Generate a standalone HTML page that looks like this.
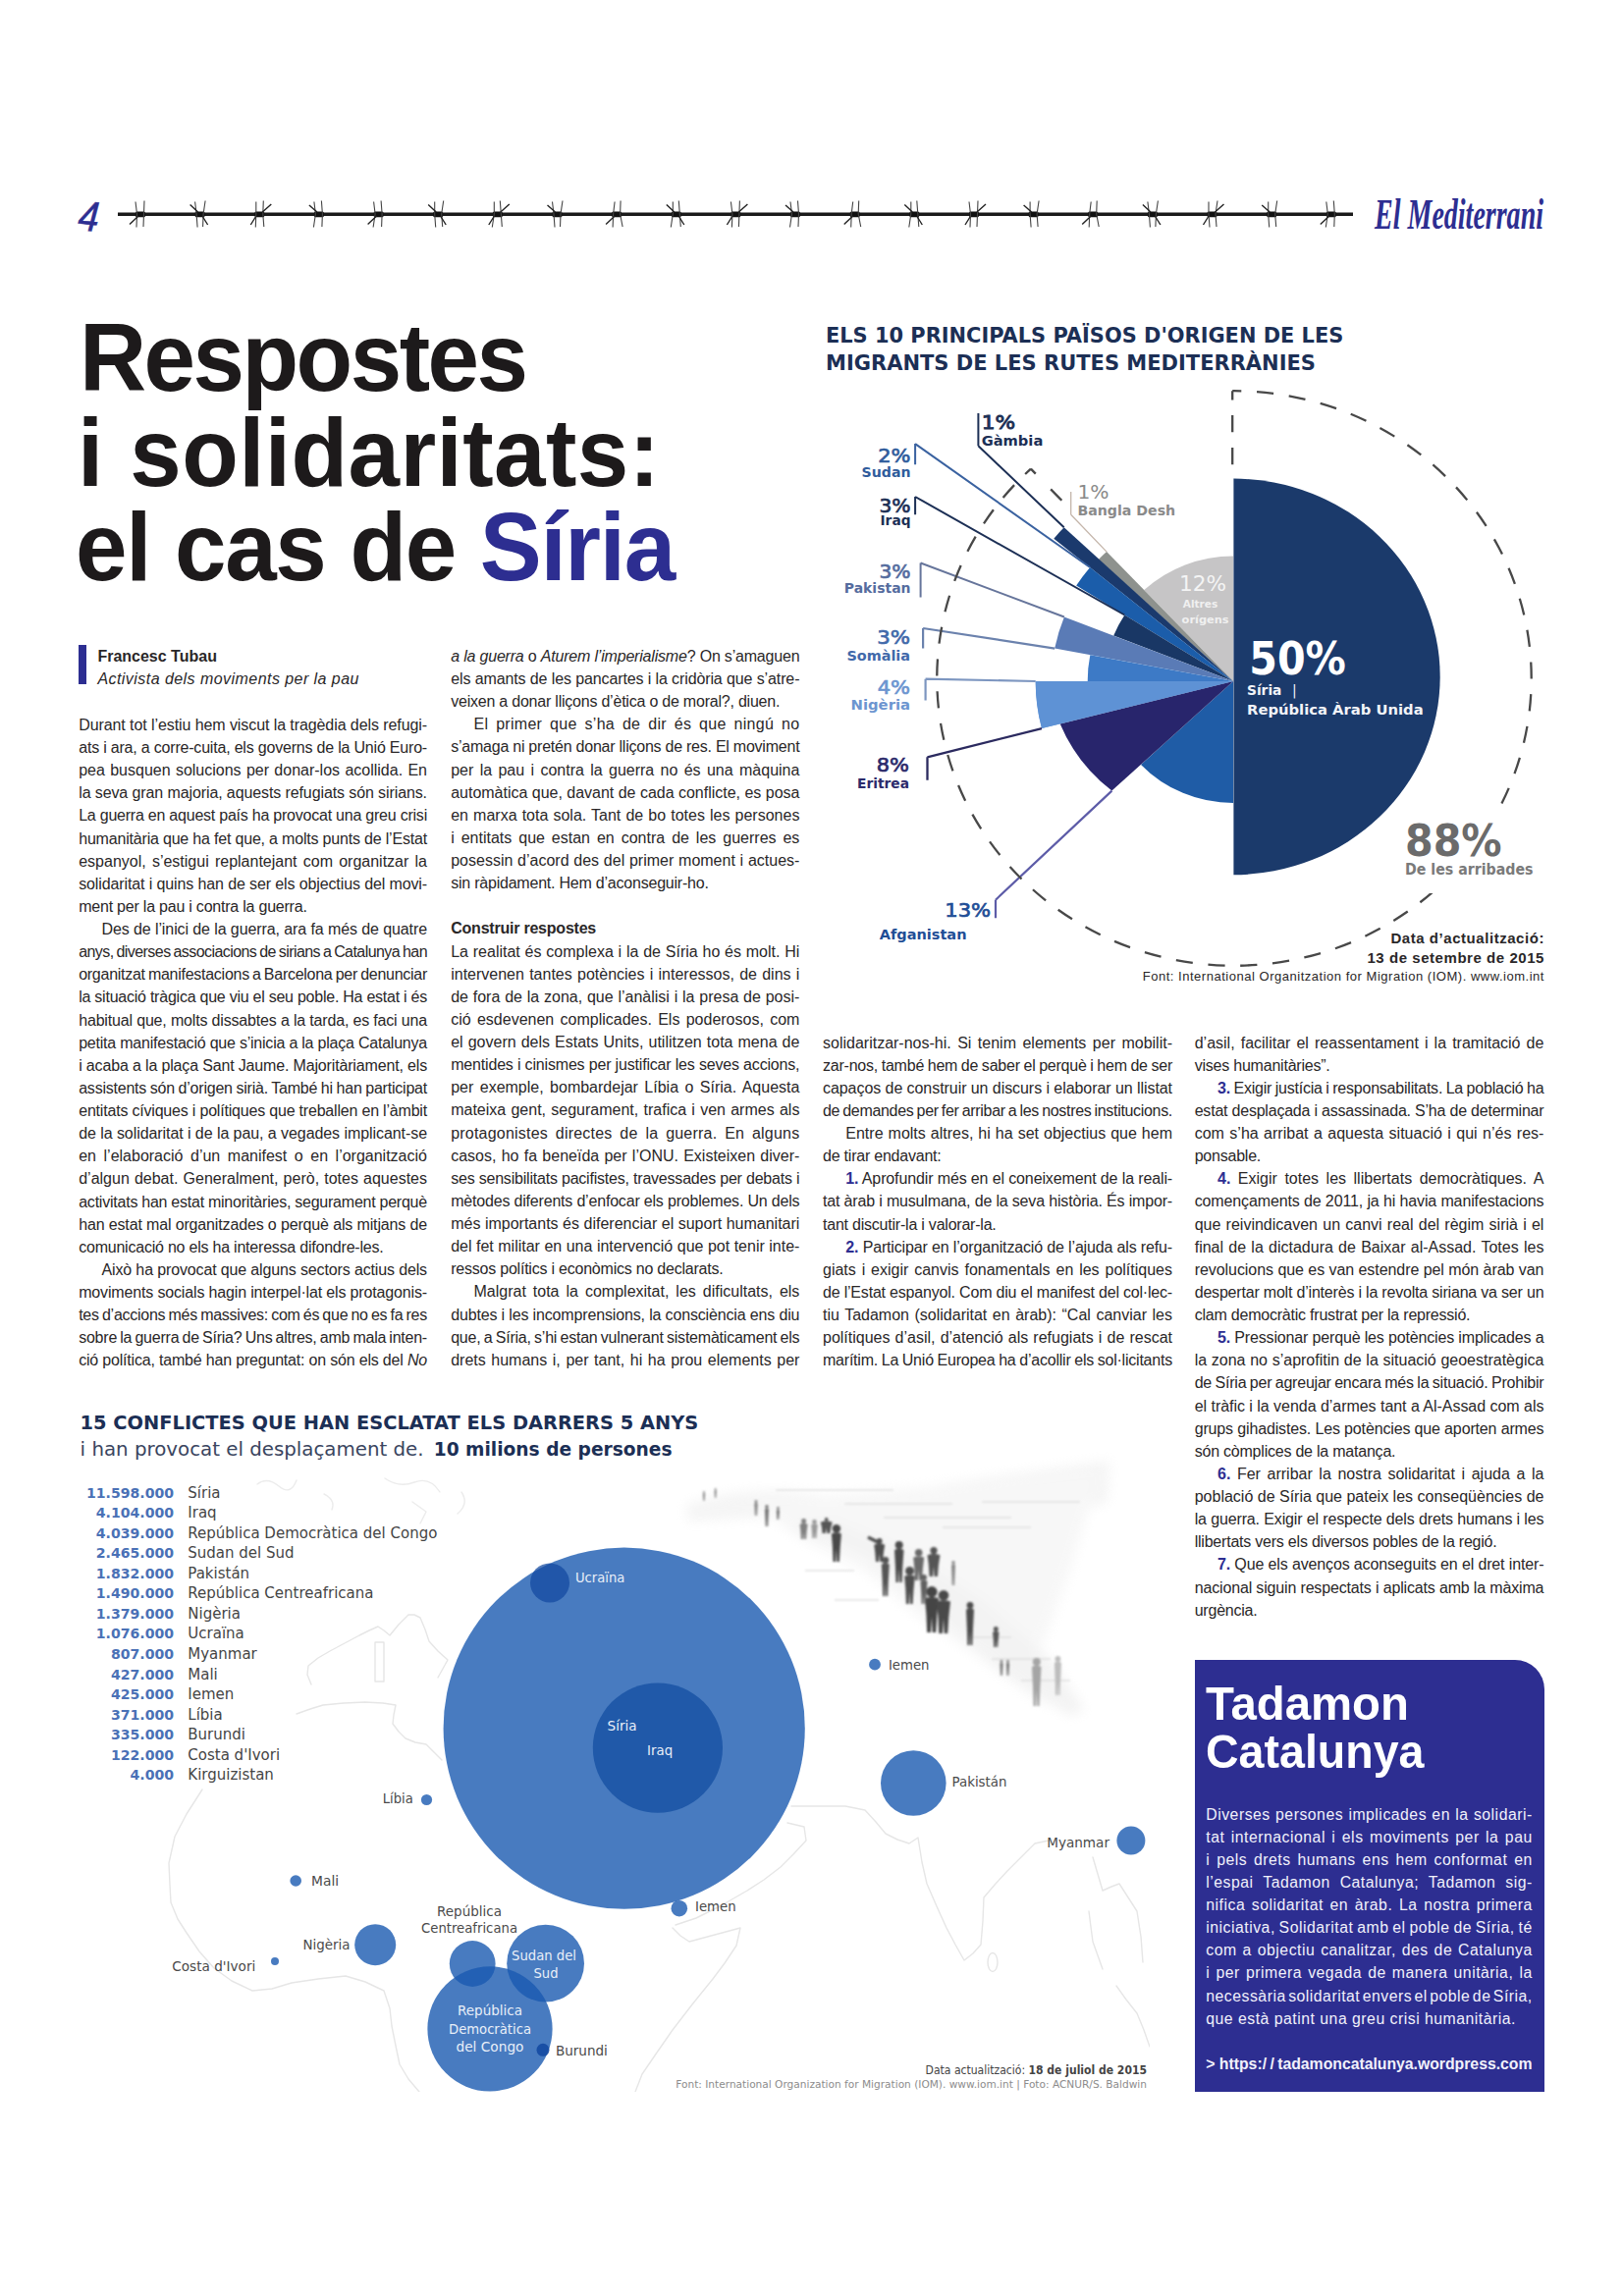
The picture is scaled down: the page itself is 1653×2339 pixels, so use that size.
<!DOCTYPE html>
<html lang="ca"><head><meta charset="utf-8"><title>El Mediterrani 4</title>
<style>
html,body{margin:0;padding:0;background:#fff}
.page{position:relative;width:1653px;height:2339px;overflow:hidden;background:#fff;font-family:"Liberation Sans",sans-serif;color:#2a2728}
.abs{position:absolute}
.col{position:absolute;white-space:nowrap}
.col .l{height:23.13px;white-space:nowrap}
.col b.n{color:#2d2e91}
.box{position:absolute;left:1216.7px;top:1691px;width:356px;height:439.6px;background:#2d2e91;border-top-right-radius:30px}
.boxt{color:#f1f1fb}
.hl{position:absolute;font-weight:bold;font-size:98.5px;line-height:100px;white-space:nowrap;color:#1d1a1b;transform:scaleX(0.958);transform-origin:0 0}
.hl span{color:#2d2e91}
.bt{position:absolute;left:1228px;font-weight:bold;font-size:48.3px;line-height:49.3px;white-space:nowrap;color:#fff;transform:scaleX(0.958);transform-origin:0 0}
.by{position:absolute;left:99.4px;white-space:nowrap;font-size:16px}
.cap{position:absolute;white-space:nowrap;text-align:right;right:80px}
</style></head><body><div class="page">
<svg class="abs" style="left:0;top:180px" width="1653" height="80" viewBox="0 180 1653 80">
<path d="M120 218.3H1378" stroke="#1a1a1a" stroke-width="3.4" fill="none"/>
<rect x="138.0" y="215.4" width="10" height="5.8" rx="1.5" fill="#111"/>
<path d="M138.0 205.5L139.5 218 139.0 231.5M147.0 204.5L146.5 218 146.0 231" stroke="#444" stroke-width="1.1" fill="none"/>
<path d="M141.0 220L132.0 228.5" stroke="#222" stroke-width="1.4" fill="none"/>
<rect x="198.6" y="215.4" width="10" height="5.8" rx="1.5" fill="#111"/>
<path d="M198.6 205.5L200.1 218 201.1 231.5M209.1 204.5L207.1 218 206.6 231" stroke="#444" stroke-width="1.1" fill="none"/>
<path d="M201.6 216L193.6 208.5M206.6 221l5 8" stroke="#222" stroke-width="1.4" fill="none"/>
<rect x="259.3" y="215.4" width="10" height="5.8" rx="1.5" fill="#111"/>
<path d="M260.8 205.5L260.8 218 260.3 231.5M268.3 204.5L267.8 218 268.8 231" stroke="#444" stroke-width="1.1" fill="none"/>
<path d="M267.3 216L276.3 208M260.3 221l-5 8" stroke="#222" stroke-width="1.4" fill="none"/>
<rect x="319.9" y="215.4" width="10" height="5.8" rx="1.5" fill="#111"/>
<path d="M319.9 205.5L321.4 218 319.4 231.5M327.4 204.5L328.4 218 327.9 231" stroke="#444" stroke-width="1.1" fill="none"/>
<path d="M322.9 216L314.9 209" stroke="#222" stroke-width="1.4" fill="none"/>
<rect x="380.6" y="215.4" width="10" height="5.8" rx="1.5" fill="#111"/>
<path d="M380.6 205.5L382.1 218 380.1 231.5M388.1 204.5L389.1 218 388.6 231" stroke="#444" stroke-width="1.1" fill="none"/>
<path d="M383.6 220L374.6 228.5" stroke="#222" stroke-width="1.4" fill="none"/>
<rect x="441.2" y="215.4" width="10" height="5.8" rx="1.5" fill="#111"/>
<path d="M442.7 205.5L442.7 218 443.7 231.5M451.7 204.5L449.7 218 450.7 231" stroke="#444" stroke-width="1.1" fill="none"/>
<path d="M444.2 216L436.2 208.5M449.2 221l5 8" stroke="#222" stroke-width="1.4" fill="none"/>
<rect x="501.8" y="215.4" width="10" height="5.8" rx="1.5" fill="#111"/>
<path d="M503.3 205.5L503.3 218 501.3 231.5M509.3 204.5L510.3 218 511.3 231" stroke="#444" stroke-width="1.1" fill="none"/>
<path d="M509.8 216L518.8 208M502.8 221l-5 8" stroke="#222" stroke-width="1.4" fill="none"/>
<rect x="562.5" y="215.4" width="10" height="5.8" rx="1.5" fill="#111"/>
<path d="M562.5 205.5L564.0 218 565.0 231.5M573.0 204.5L571.0 218 570.5 231" stroke="#444" stroke-width="1.1" fill="none"/>
<path d="M565.5 216L557.5 209" stroke="#222" stroke-width="1.4" fill="none"/>
<rect x="623.1" y="215.4" width="10" height="5.8" rx="1.5" fill="#111"/>
<path d="M626.1 205.5L624.6 218 624.1 231.5M632.1 204.5L631.6 218 634.1 231" stroke="#444" stroke-width="1.1" fill="none"/>
<path d="M626.1 220L617.1 228.5" stroke="#222" stroke-width="1.4" fill="none"/>
<rect x="683.8" y="215.4" width="10" height="5.8" rx="1.5" fill="#111"/>
<path d="M685.3 205.5L685.3 218 683.3 231.5M691.3 204.5L692.3 218 693.3 231" stroke="#444" stroke-width="1.1" fill="none"/>
<path d="M686.8 216L678.8 208.5M691.8 221l5 8" stroke="#222" stroke-width="1.4" fill="none"/>
<rect x="744.4" y="215.4" width="10" height="5.8" rx="1.5" fill="#111"/>
<path d="M744.4 205.5L745.9 218 745.4 231.5M753.4 204.5L752.9 218 752.4 231" stroke="#444" stroke-width="1.1" fill="none"/>
<path d="M752.4 216L761.4 208M745.4 221l-5 8" stroke="#222" stroke-width="1.4" fill="none"/>
<rect x="805.0" y="215.4" width="10" height="5.8" rx="1.5" fill="#111"/>
<path d="M805.0 205.5L806.5 218 804.5 231.5M812.5 204.5L813.5 218 813.0 231" stroke="#444" stroke-width="1.1" fill="none"/>
<path d="M808.0 216L800.0 209" stroke="#222" stroke-width="1.4" fill="none"/>
<rect x="865.7" y="215.4" width="10" height="5.8" rx="1.5" fill="#111"/>
<path d="M868.7 205.5L867.2 218 866.7 231.5M874.7 204.5L874.2 218 876.7 231" stroke="#444" stroke-width="1.1" fill="none"/>
<path d="M868.7 220L859.7 228.5" stroke="#222" stroke-width="1.4" fill="none"/>
<rect x="926.3" y="215.4" width="10" height="5.8" rx="1.5" fill="#111"/>
<path d="M927.8 205.5L927.8 218 925.8 231.5M933.8 204.5L934.8 218 935.8 231" stroke="#444" stroke-width="1.1" fill="none"/>
<path d="M929.3 216L921.3 208.5M934.3 221l5 8" stroke="#222" stroke-width="1.4" fill="none"/>
<rect x="987.0" y="215.4" width="10" height="5.8" rx="1.5" fill="#111"/>
<path d="M987.0 205.5L988.5 218 988.0 231.5M996.0 204.5L995.5 218 995.0 231" stroke="#444" stroke-width="1.1" fill="none"/>
<path d="M995.0 216L1004.0 208M988.0 221l-5 8" stroke="#222" stroke-width="1.4" fill="none"/>
<rect x="1047.6" y="215.4" width="10" height="5.8" rx="1.5" fill="#111"/>
<path d="M1049.1 205.5L1049.1 218 1050.1 231.5M1058.1 204.5L1056.1 218 1057.1 231" stroke="#444" stroke-width="1.1" fill="none"/>
<path d="M1050.6 216L1042.6 209" stroke="#222" stroke-width="1.4" fill="none"/>
<rect x="1108.2" y="215.4" width="10" height="5.8" rx="1.5" fill="#111"/>
<path d="M1111.2 205.5L1109.7 218 1109.2 231.5M1117.2 204.5L1116.7 218 1119.2 231" stroke="#444" stroke-width="1.1" fill="none"/>
<path d="M1111.2 220L1102.2 228.5" stroke="#222" stroke-width="1.4" fill="none"/>
<rect x="1168.9" y="215.4" width="10" height="5.8" rx="1.5" fill="#111"/>
<path d="M1168.9 205.5L1170.4 218 1171.4 231.5M1179.4 204.5L1177.4 218 1176.9 231" stroke="#444" stroke-width="1.1" fill="none"/>
<path d="M1171.9 216L1163.9 208.5M1176.9 221l5 8" stroke="#222" stroke-width="1.4" fill="none"/>
<rect x="1229.5" y="215.4" width="10" height="5.8" rx="1.5" fill="#111"/>
<path d="M1231.0 205.5L1231.0 218 1232.0 231.5M1240.0 204.5L1238.0 218 1239.0 231" stroke="#444" stroke-width="1.1" fill="none"/>
<path d="M1237.5 216L1246.5 208M1230.5 221l-5 8" stroke="#222" stroke-width="1.4" fill="none"/>
<rect x="1290.2" y="215.4" width="10" height="5.8" rx="1.5" fill="#111"/>
<path d="M1291.7 205.5L1291.7 218 1292.7 231.5M1300.7 204.5L1298.7 218 1299.7 231" stroke="#444" stroke-width="1.1" fill="none"/>
<path d="M1293.2 216L1285.2 209" stroke="#222" stroke-width="1.4" fill="none"/>
<rect x="1350.8" y="215.4" width="10" height="5.8" rx="1.5" fill="#111"/>
<path d="M1350.8 205.5L1352.3 218 1350.3 231.5M1358.3 204.5L1359.3 218 1358.8 231" stroke="#444" stroke-width="1.1" fill="none"/>
<path d="M1353.8 220L1344.8 228.5" stroke="#222" stroke-width="1.4" fill="none"/>
<text x="80" y="235.5" font-family="'Liberation Sans',sans-serif" font-style="italic" font-size="43" fill="#2d2e91" stroke="#2d2e91" stroke-width="0.6" textLength="21" lengthAdjust="spacingAndGlyphs" transform="rotate(5 94 220)">4</text>
<text x="1400" y="232.8" font-family="'Liberation Serif',serif" font-style="italic" font-weight="bold" font-size="44" fill="#2d2e91" textLength="172" lengthAdjust="spacingAndGlyphs">El Mediterrani</text>
</svg>
<div class="hl" style="left:80.50px;top:314.37px;letter-spacing:-2.65px">Respostes</div>
<div class="hl" style="left:79.40px;top:410.87px;letter-spacing:0.43px">i solidaritats:</div>
<div class="hl" style="left:77.00px;top:507.37px;letter-spacing:-1.37px">el cas de <span>Síria</span></div>
<div class="abs" style="left:79.7px;top:657px;width:8.2px;height:40.4px;background:#2d2e91"></div>
<div class="by" style="top:656.5px;line-height:23px"><b>Francesc Tubau</b></div>
<div class="by" style="top:679.5px;line-height:23px;letter-spacing:0.45px"><i>Activista dels moviments per la pau</i></div>
<div class="col" style="left:80.20px;top:726.99px;width:354.80px;font-size:16px;line-height:23.13px">
<div class="l" style="letter-spacing:-0.083px">Durant tot l’estiu hem viscut la tragèdia dels refugi-</div>
<div class="l" style="letter-spacing:-0.198px">ats i ara, a corre-cuita, els governs de la Unió Euro-</div>
<div class="l" style="word-spacing:0.871px">pea busquen solucions per donar-los acollida. En</div>
<div class="l" style="letter-spacing:-0.104px">la seva gran majoria, aquests refugiats són sirians.</div>
<div class="l" style="word-spacing:-0.050px;letter-spacing:-0.220px">La guerra en aquest país ha provocat una greu crisi</div>
<div class="l" style="letter-spacing:-0.190px">humanitària que ha fet que, a molts punts de l’Estat</div>
<div class="l" style="word-spacing:1.764px">espanyol, s’estigui replantejant com organitzar la</div>
<div class="l" style="letter-spacing:-0.116px">solidaritat i quins han de ser els objectius del movi-</div>
<div class="l" style="letter-spacing:-0.220px">ment per la pau i contra la guerra.</div>
<div class="l" style="padding-left:23.3px;letter-spacing:-0.096px">Des de l’inici de la guerra, ara fa més de quatre</div>
<div class="l" style="word-spacing:-1.000px;letter-spacing:-0.563px">anys, diverses associacions de sirians a Catalunya han</div>
<div class="l" style="word-spacing:-1.000px;letter-spacing:-0.270px">organitzat manifestacions a Barcelona per denunciar</div>
<div class="l" style="word-spacing:-0.121px;letter-spacing:-0.220px">la situació tràgica que viu el seu poble. Ha estat i és</div>
<div class="l" style="letter-spacing:-0.170px">habitual que, molts dissabtes a la tarda, es faci una</div>
<div class="l" style="letter-spacing:-0.220px">petita manifestació que s’inicia a la plaça Catalunya</div>
<div class="l" style="letter-spacing:-0.158px">i acaba a la plaça Sant Jaume. Majoritàriament, els</div>
<div class="l" style="word-spacing:-0.558px;letter-spacing:-0.220px">assistents són d’origen sirià. També hi han participat</div>
<div class="l" style="letter-spacing:-0.196px">entitats cíviques i polítiques que treballen en l’àmbit</div>
<div class="l" style="letter-spacing:-0.069px">de la solidaritat i de la pau, a vegades implicant-se</div>
<div class="l" style="word-spacing:3.097px">en l’elaboració d’un manifest o en l’organització</div>
<div class="l" style="word-spacing:0.689px">d’algun debat. Generalment, però, totes aquestes</div>
<div class="l" style="word-spacing:-0.214px;letter-spacing:-0.220px">activitats han estat minoritàries, segurament perquè</div>
<div class="l" style="letter-spacing:-0.144px">han estat mal organitzades o perquè als mitjans de</div>
<div class="l" style="letter-spacing:-0.220px">comunicació no els ha interessa difondre-les.</div>
<div class="l" style="padding-left:23.3px;letter-spacing:-0.138px">Això ha provocat que alguns sectors actius dels</div>
<div class="l" style="letter-spacing:-0.155px">moviments socials hagin interpel·lat els protagonis-</div>
<div class="l" style="word-spacing:-1.000px;letter-spacing:-0.258px">tes d’accions més massives: com és que no es fa res</div>
<div class="l" style="word-spacing:-1.000px;letter-spacing:-0.234px">sobre la guerra de Síria? Uns altres, amb mala inten-</div>
<div class="l" style="letter-spacing:-0.190px">ció política, també han preguntat: on són els del <i>No</i></div>
</div>
<div class="col" style="left:459.20px;top:656.89px;width:355.20px;font-size:16px;line-height:23.13px">
<div class="l" style="letter-spacing:-0.192px"><i>a la guerra</i> o <i>Aturem l’imperialisme</i>? On s’amaguen</div>
<div class="l" style="letter-spacing:-0.111px">els amants de les pancartes i la cridòria que s’atre-</div>
<div class="l" style="letter-spacing:-0.220px">veixen a donar lliçons d’ètica o de moral?, diuen.</div>
<div class="l" style="padding-left:23.3px;word-spacing:3.200px;letter-spacing:0.277px">El primer que s’ha de dir és que ningú no</div>
<div class="l" style="word-spacing:-0.110px;letter-spacing:-0.220px">s’amaga ni pretén donar lliçons de res. El moviment</div>
<div class="l" style="word-spacing:1.897px">per la pau i contra la guerra no és una màquina</div>
<div class="l" style="letter-spacing:-0.012px">automàtica que, davant de cada conflicte, es posa</div>
<div class="l" style="word-spacing:0.660px">en marxa tota sola. Tant de bo totes les persones</div>
<div class="l" style="word-spacing:2.504px">i entitats que estan en contra de les guerres es</div>
<div class="l" style="word-spacing:0.306px">posessin d’acord des del primer moment i actues-</div>
<div class="l" style="letter-spacing:-0.220px">sin ràpidament. Hem d’aconseguir-ho.</div>
<div class="l">&nbsp;</div>
<div class="l" style="letter-spacing:-0.220px"><b>Construir respostes</b></div>
<div class="l" style="word-spacing:0.356px">La realitat és complexa i la de Síria ho és molt. Hi</div>
<div class="l" style="word-spacing:0.807px">intervenen tantes potències i interessos, de dins i</div>
<div class="l" style="word-spacing:0.351px">de fora de la zona, que l’anàlisi i la presa de posi-</div>
<div class="l" style="word-spacing:1.846px">ció esdevenen complicades. Els poderosos, com</div>
<div class="l" style="word-spacing:0.598px">el govern dels Estats Units, utilitzen tota mena de</div>
<div class="l" style="letter-spacing:-0.177px">mentides i cinismes per justificar les seves accions,</div>
<div class="l" style="word-spacing:1.979px">per exemple, bombardejar Líbia o Síria. Aquesta</div>
<div class="l" style="word-spacing:0.814px">mateixa gent, segurament, trafica i ven armes als</div>
<div class="l" style="word-spacing:3.200px;letter-spacing:0.208px">protagonistes directes de la guerra. En alguns</div>
<div class="l" style="word-spacing:0.813px">casos, ho fa beneïda per l’ONU. Existeixen diver-</div>
<div class="l" style="letter-spacing:-0.208px">ses sensibilitats pacifistes, travessades per debats i</div>
<div class="l" style="letter-spacing:-0.189px">mètodes diferents d’enfocar els problemes. Un dels</div>
<div class="l" style="word-spacing:0.061px">més importants és diferenciar el suport humanitari</div>
<div class="l" style="word-spacing:0.035px">del fet militar en una intervenció que pot tenir inte-</div>
<div class="l" style="letter-spacing:-0.220px">ressos polítics i econòmics no declarats.</div>
<div class="l" style="padding-left:23.3px;word-spacing:2.552px">Malgrat tota la complexitat, les dificultats, els</div>
<div class="l" style="letter-spacing:-0.151px">dubtes i les incomprensions, la consciència ens diu</div>
<div class="l" style="word-spacing:-0.921px;letter-spacing:-0.220px">que, a Síria, s’hi estan vulnerant sistemàticament els</div>
<div class="l" style="word-spacing:1.123px">drets humans i, per tant, hi ha prou elements per</div>
</div>
<div class="col" style="left:838.00px;top:1050.59px;width:356.00px;font-size:16px;line-height:23.13px">
<div class="l" style="word-spacing:2.018px">solidaritzar-nos-hi. Si tenim elements per mobilit-</div>
<div class="l" style="word-spacing:-0.565px;letter-spacing:-0.220px">zar-nos, també hem de saber el perquè i hem de ser</div>
<div class="l" style="letter-spacing:-0.062px">capaços de construir un discurs i elaborar un llistat</div>
<div class="l" style="word-spacing:-1.000px;letter-spacing:-0.319px">de demandes per fer arribar a les nostres institucions.</div>
<div class="l" style="padding-left:23.3px;word-spacing:0.566px">Entre molts altres, hi ha set objectius que hem</div>
<div class="l" style="letter-spacing:-0.220px">de tirar endavant:</div>
<div class="l" style="padding-left:23.3px;letter-spacing:-0.128px"><b class=n>1.</b> Aprofundir més en el coneixement de la reali-</div>
<div class="l" style="letter-spacing:-0.166px">tat àrab i musulmana, de la seva història. És impor-</div>
<div class="l" style="letter-spacing:-0.220px">tant discutir-la i valorar-la.</div>
<div class="l" style="padding-left:23.3px;letter-spacing:-0.153px"><b class=n>2.</b> Participar en l’organització de l’ajuda als refu-</div>
<div class="l" style="word-spacing:1.432px">giats i exigir canvis fonamentals en les polítiques</div>
<div class="l" style="letter-spacing:-0.196px">de l’Estat espanyol. Com diu el manifest del col·lec-</div>
<div class="l" style="word-spacing:1.096px">tiu Tadamon (solidaritat en àrab): “Cal canviar les</div>
<div class="l" style="word-spacing:0.669px">polítiques d’asil, d’atenció als refugiats i de rescat</div>
<div class="l" style="word-spacing:-0.518px;letter-spacing:-0.220px">marítim. La Unió Europea ha d’acollir els sol·licitants</div>
</div>
<div class="col" style="left:1216.70px;top:1050.59px;width:355.70px;font-size:16px;line-height:23.13px">
<div class="l" style="word-spacing:1.648px">d’asil, facilitar el reassentament i la tramitació de</div>
<div class="l" style="letter-spacing:-0.220px">vises humanitàries”.</div>
<div class="l" style="padding-left:23.3px;word-spacing:-0.655px;letter-spacing:-0.220px"><b class=n>3.</b> Exigir justícia i responsabilitats. La població ha</div>
<div class="l" style="letter-spacing:-0.215px">estat desplaçada i assassinada. S’ha de determinar</div>
<div class="l" style="word-spacing:0.984px">com s’ha arribat a aquesta situació i qui n’és res-</div>
<div class="l" style="letter-spacing:-0.220px">ponsable.</div>
<div class="l" style="padding-left:23.3px;word-spacing:3.078px"><b class=n>4.</b> Exigir totes les llibertats democràtiques. A</div>
<div class="l" style="letter-spacing:-0.125px">començaments de 2011, ja hi havia manifestacions</div>
<div class="l" style="word-spacing:0.786px">que reivindicaven un canvi real del règim sirià i el</div>
<div class="l" style="word-spacing:0.807px">final de la dictadura de Baixar al-Assad. Totes les</div>
<div class="l" style="letter-spacing:-0.057px">revolucions que es van estendre pel món àrab van</div>
<div class="l" style="letter-spacing:-0.195px">despertar molt d’interès i la revolta siriana va ser un</div>
<div class="l" style="letter-spacing:-0.220px">clam democràtic frustrat per la repressió.</div>
<div class="l" style="padding-left:23.3px;letter-spacing:-0.156px"><b class=n>5.</b> Pressionar perquè les potències implicades a</div>
<div class="l" style="word-spacing:0.241px">la zona no s’aprofitin de la situació geoestratègica</div>
<div class="l" style="word-spacing:-0.744px;letter-spacing:-0.220px">de Síria per agreujar encara més la situació. Prohibir</div>
<div class="l" style="letter-spacing:-0.035px">el tràfic i la venda d’armes tant a Al-Assad com als</div>
<div class="l" style="letter-spacing:-0.147px">grups gihadistes. Les potències que aporten armes</div>
<div class="l" style="letter-spacing:-0.220px">són còmplices de la matança.</div>
<div class="l" style="padding-left:23.3px;word-spacing:2.150px"><b class=n>6.</b> Fer arribar la nostra solidaritat i ajuda a la</div>
<div class="l">població de Síria que pateix les conseqüències de</div>
<div class="l" style="letter-spacing:-0.135px">la guerra. Exigir el respecte dels drets humans i les</div>
<div class="l" style="letter-spacing:-0.220px">llibertats vers els diversos pobles de la regió.</div>
<div class="l" style="padding-left:23.3px;letter-spacing:-0.135px"><b class=n>7.</b> Que els avenços aconseguits en el dret inter-</div>
<div class="l" style="letter-spacing:-0.158px">nacional siguin respectats i aplicats amb la màxima</div>
<div class="l" style="letter-spacing:-0.220px">urgència.</div>
</div>
<svg class="abs" style="left:820px;top:300px" width="800" height="720" viewBox="820 300 800 720" font-family="'DejaVu Sans',sans-serif">
<text x="841.0" y="348.6" font-size="20.7" fill="#1c2f55" text-anchor="start" font-weight="bold" textLength="527.3" lengthAdjust="spacingAndGlyphs">ELS 10 PRINCIPALS PAÏSOS D'ORIGEN DE LES</text>
<text x="841.0" y="377.3" font-size="20.7" fill="#1c2f55" text-anchor="start" font-weight="bold" textLength="499.0" lengthAdjust="spacingAndGlyphs">MIGRANTS DE LES RUTES MEDITERRÀNIES</text>
<path d="M1256.0 694.0L1165.2 601.0A132.7 127.6 0 0 1 1256.0 566.4Z" fill="#c6c5c6"/>
<path d="M1256.0 694.0L1118.8 570.1A188.2 181.0 0 0 1 1127.1 562.1Z" fill="#8e928e"/>
<path d="M1256.0 694.0L1073.3 548.7A237.1 228.0 0 0 1 1083.7 537.3Z" fill="#1b3a6d"/>
<path d="M1256.0 694.0L1096.2 596.5A189.3 182.0 0 0 1 1110.2 578.0Z" fill="#1b5daa"/>
<path d="M1256.0 694.0L1134.2 647.6A131.0 126.0 0 0 1 1145.4 626.5Z" fill="#193765"/>
<path d="M1256.0 694.0L1074.2 660.6A185.1 178.0 0 0 1 1083.9 628.5Z" fill="#5a7bb6"/>
<path d="M1256.0 694.0L1107.7 694.0A148.3 142.6 0 0 1 1110.3 667.3Z" fill="#3d7ac6"/>
<path d="M1256.0 694.0L1061.0 742.1A201.3 193.6 0 0 1 1054.7 694.0Z" fill="#5e92d5"/>
<path d="M1256.0 694.0L1256.0 818.0A129.0 124.0 0 0 1 1162.0 778.9Z" fill="#1f5ca6"/>
<path d="M1256.0 694.0L1132.4 805.6A175.8 169 0 0 1 1079.7 737.5Z" fill="#28256c"/>
<path d="M1256.0 694.0L1061.0 742.1A201.3 193.6 0 0 1 1054.7 694.0Z" fill="#5e92d5"/>
<path d="M1256.4 487.6A210.3 201.8 0 0 1 1256.4 891.2Z" fill="#1b3a6b"/>
<path d="M1014.0 916.7V935.2M1014.0 916.7L1132.4 805.6" stroke="#5d5ca8" stroke-width="2.2" fill="none"/>
<path d="M944.5 771.3V794.7M944.5 771.3L1061.0 742.1" stroke="#2b2a5f" stroke-width="2.3" fill="none"/>
<path d="M942.6 691.7V713.4M942.6 691.7L1054.7 694.0" stroke="#7d96c0" stroke-width="2.2" fill="none"/>
<path d="M940.1 640.0V660.4M940.1 640.0L1074.2 660.6" stroke="#6b82ad" stroke-width="2.2" fill="none"/>
<path d="M937.6 573.5V608.5M937.6 573.5L1083.9 628.5" stroke="#66759b" stroke-width="2.0" fill="none"/>
<path d="M932.1 506.0V524.2M932.1 506.0L1145.4 626.5" stroke="#1c2f55" stroke-width="2.0" fill="none"/>
<path d="M932.1 452.1V473.2M932.1 452.1L1110.2 578.0" stroke="#3a62a0" stroke-width="2.0" fill="none"/>
<path d="M996.4 421.0V454.3M996.4 454.3L1083.7 537.3" stroke="#1c2f55" stroke-width="2.0" fill="none"/>
<path d="M1090.7 501.0V524.2M1090.7 524.2L1127.1 562.1" stroke="#c4b5aa" stroke-width="1.3" fill="none"/>
<path d="M1255.2 398.2A303.3 292.8 0 0 1 1257.6 983.8A303.3 292.8 0 0 1 1049.9 477.6" fill="none" stroke="#484848" stroke-width="2.3" stroke-dasharray="17.2 15.7" stroke-dashoffset="8"/>
<path d="M1255.2 398.2V487" fill="none" stroke="#484848" stroke-width="2.3" stroke-dasharray="17.2 15.7" stroke-dashoffset="8"/>
<path d="M1049.9 477.6L1093.1 521.9" fill="none" stroke="#484848" stroke-width="2.3" stroke-dasharray="7 22 16 40"/>
<rect x="1424" y="828" width="165" height="82" fill="#fff"/>
<text x="1009.1" y="934.0" font-size="20" fill="#1f4e96" text-anchor="end" font-weight="normal" textLength="46.8" lengthAdjust="spacingAndGlyphs" stroke="#1f4e96" stroke-width="0.7">13%</text>
<text x="1009.1" y="957.4" font-size="13.5" fill="#1f4e96" text-anchor="end" font-weight="bold"></text>
<text x="895.7" y="957.4" font-size="13.5" fill="#1f4e96" text-anchor="start" font-weight="bold" textLength="88.8" lengthAdjust="spacingAndGlyphs">Afganistan</text>
<text x="926.0" y="786.0" font-size="20" fill="#2b2a6b" text-anchor="end" font-weight="normal" textLength="33.2" lengthAdjust="spacingAndGlyphs" stroke="#2b2a6b" stroke-width="0.7">8%</text>
<text x="926.0" y="803.3" font-size="13.5" fill="#2b2a6b" text-anchor="end" font-weight="bold" textLength="53.0" lengthAdjust="spacingAndGlyphs">Eritrea</text>
<text x="927.0" y="707.2" font-size="20" fill="#6c95d0" text-anchor="end" font-weight="normal" textLength="33.3" lengthAdjust="spacingAndGlyphs" stroke="#6c95d0" stroke-width="0.7">4%</text>
<text x="927.0" y="723.2" font-size="13.5" fill="#6c95d0" text-anchor="end" font-weight="bold" textLength="60.4" lengthAdjust="spacingAndGlyphs">Nigèria</text>
<text x="927.0" y="656.2" font-size="20" fill="#4169aa" text-anchor="end" font-weight="normal" textLength="33.8" lengthAdjust="spacingAndGlyphs" stroke="#4169aa" stroke-width="0.7">3%</text>
<text x="927.0" y="673.2" font-size="13.5" fill="#4169aa" text-anchor="end" font-weight="bold" textLength="64.6" lengthAdjust="spacingAndGlyphs">Somàlia</text>
<text x="927.5" y="588.6" font-size="20" fill="#556c9e" text-anchor="end" font-weight="normal" textLength="32.1" lengthAdjust="spacingAndGlyphs" stroke="#556c9e" stroke-width="0.7">3%</text>
<text x="927.5" y="603.6" font-size="13.5" fill="#556c9e" text-anchor="end" font-weight="bold" textLength="67.7" lengthAdjust="spacingAndGlyphs">Pakistan</text>
<text x="927.5" y="522.0" font-size="20" fill="#1c2f55" text-anchor="end" font-weight="normal" textLength="32.1" lengthAdjust="spacingAndGlyphs" stroke="#1c2f55" stroke-width="0.7">3%</text>
<text x="927.5" y="535.3" font-size="13.5" fill="#1c2f55" text-anchor="end" font-weight="bold" textLength="31.0" lengthAdjust="spacingAndGlyphs">Iraq</text>
<text x="927.5" y="470.5" font-size="20" fill="#2f5c9c" text-anchor="end" font-weight="normal" textLength="33.2" lengthAdjust="spacingAndGlyphs" stroke="#2f5c9c" stroke-width="0.7">2%</text>
<text x="927.5" y="485.8" font-size="13.5" fill="#2f5c9c" text-anchor="end" font-weight="bold" textLength="49.9" lengthAdjust="spacingAndGlyphs">Sudan</text>
<text x="999.7" y="436.6" font-size="20" fill="#1c2f55" text-anchor="start" font-weight="normal" textLength="34.4" lengthAdjust="spacingAndGlyphs" stroke="#1c2f55" stroke-width="0.9">1%</text>
<text x="999.7" y="454.3" font-size="13.5" fill="#1c2f55" text-anchor="start" font-weight="bold" textLength="62.6" lengthAdjust="spacingAndGlyphs">Gàmbia</text>
<text x="1097.4" y="507.6" font-size="20" fill="#8a8a8a" text-anchor="start" font-weight="normal" textLength="32.1" lengthAdjust="spacingAndGlyphs">1%</text>
<text x="1097.4" y="525.3" font-size="13.5" fill="#8a8a8a" text-anchor="start" font-weight="bold" textLength="99.8" lengthAdjust="spacingAndGlyphs">Bangla Desh</text>
<text x="1201.0" y="602.0" font-size="22" fill="#f4f4f4" text-anchor="start" font-weight="normal" textLength="48.0" lengthAdjust="spacingAndGlyphs">12%</text>
<text x="1204.8" y="618.5" font-size="11" fill="#f0f0f0" text-anchor="start" font-weight="bold" textLength="35.4" lengthAdjust="spacingAndGlyphs">Altres</text>
<text x="1203.6" y="635.0" font-size="11" fill="#f0f0f0" text-anchor="start" font-weight="bold" textLength="48.0" lengthAdjust="spacingAndGlyphs">orígens</text>
<text x="1272.2" y="686.5" font-size="47" fill="#ffffff" text-anchor="start" font-weight="bold" textLength="98.7" lengthAdjust="spacingAndGlyphs">50%</text>
<text x="1270.0" y="707.6" font-size="14" fill="#f2f4f8" text-anchor="start" font-weight="bold" textLength="35.4" lengthAdjust="spacingAndGlyphs">Síria</text>
<text x="1316.0" y="707.6" font-size="14" fill="#f2f4f8" text-anchor="start" font-weight="normal">|</text>
<text x="1270.0" y="727.6" font-size="14" fill="#f2f4f8" text-anchor="start" font-weight="bold" textLength="179.6" lengthAdjust="spacingAndGlyphs">República Àrab Unida</text>
<text x="1431.0" y="872.4" font-size="44" fill="#6b6b6b" text-anchor="start" font-weight="bold" textLength="98.6" lengthAdjust="spacingAndGlyphs">88%</text>
<text x="1431.0" y="891.2" font-size="15" fill="#7a7a7a" text-anchor="start" font-weight="bold" textLength="130.5" lengthAdjust="spacingAndGlyphs">De les arribades</text>
</svg>
<div class="cap" style="top:945.9px;font-size:15px;line-height:20.3px;font-weight:bold;letter-spacing:0.55px">Data d’actualització:<br>13 de setembre de 2015</div>
<div class="cap" style="top:987.5px;font-size:13px;line-height:14px;letter-spacing:0.52px">Font: International Organitzation for Migration (IOM). www.iom.int</div>
<svg class="abs" style="left:60px;top:1420px" width="1120" height="720" viewBox="60 1420 1120 720" font-family="'DejaVu Sans',sans-serif">
<defs><filter id="bl" x="-20%" y="-20%" width="140%" height="140%"><feGaussianBlur stdDeviation="0.9"/></filter><filter id="bl2" x="-20%" y="-20%" width="140%" height="140%"><feGaussianBlur stdDeviation="6"/></filter><clipPath id="mc"><rect x="60" y="1420" width="1111" height="711"/></clipPath></defs>
<g clip-path="url(#mc)">
<g fill="none" stroke="#e6e6e6" stroke-width="1.4" stroke-linejoin="round" stroke-linecap="round">
<path d="M206 1823L190 1848 178 1871 172 1898 173 1920 174 1938 181 1955 190 1969 203 1988 218 2005 236 2018 257 2028 277 2026 297 2020 324 2016 352 2013 372 2019 391 2028 397 2046 399 2064 403 2084 407 2103 416 2118 427 2131"/>
<path d="M302 1746L316 1741 329 1737 350 1735 372 1734 390 1735 403 1737 401 1747 400 1756 406 1764 413 1771 423 1775 434 1777 442 1785 450 1793"/>
<path d="M317 1716L313 1706 314 1697 324 1689 336 1682 351 1674 366 1666 376 1661 385 1657 391 1661 397 1666 406 1655 416 1645 422 1645 428 1648 433 1660 437 1672 446 1682 456 1691 451 1700 446 1709M382 1673h9v40h-9z"/>
<path d="M262 1512q10 -8 22 2t18 -6M330 1522q12 6 8 16M392 1506q14 10 30 4t26 10M420 1530l14 10 -6 12M470 1520q8 12 -4 22" stroke="#ececec"/>
<path d="M802 1857L819 1861 821 1875 808 1889 795 1902 778 1915 761 1926 735 1941 709 1954 688 1961M685 1964L693 1972 702 1978 728 1971 754 1964 750 1982 738 2000 726 2016 705 2042 685 2068 669 2091 654 2113 647 2131"/>
<path d="M806 1840L834 1840 861 1840 881 1844 892 1856 902 1868 914 1874 926 1878 935 1872 939 1897 944 1919 954 1942 964 1964 973 1981 982 1997 991 1990 999 1981 1001 1957 1002 1933 1014 1919 1026 1906 1040 1892 1054 1878 1068 1875"/>
<ellipse cx="1011" cy="1999" rx="5" ry="9.5"/>
<path d="M1113 1892L1118 1909 1123 1926 1132 1922 1140 1919 1149 1933 1158 1947 1162 1973 1164 1999M1109 1947L1111 1963 1113 1978 1118 1992 1123 2006M1137 2023L1147 2037 1158 2051 1165 2068 1171 2085"/>
</g>
<g filter="url(#bl2)" opacity="0.4"><path d="M700 1532Q760 1512 830 1522T960 1512Q1040 1500 1130 1488L1128 1530Q1040 1560 980 1548Q900 1538 700 1550Z" fill="#e6e6e6"/><path d="M760 1530L1120 1500 1090 1600 1060 1680 1100 1740 1060 1735 1000 1690 940 1650 880 1600 820 1570Z" fill="#ececec"/><path d="M800 1556L880 1585 960 1650 1020 1705 1090 1748 1105 1742 1070 1690 1000 1630 930 1585 850 1550Z" fill="#e2e2e2"/></g>
<g stroke="#dcdcdc" stroke-width="1.5" opacity="0.8" filter="url(#bl)"><path d="M790 1518h120M860 1532h110M900 1546h130M820 1600h50M850 1630h45M960 1556h90M1000 1530h100M1010 1690h60M1040 1712h50M990 1668h40" fill="none"/></g>
<g filter="url(#bl)">
<circle cx="717" cy="1520.0" r="1.0" fill="#8c8c8c"/>
<path d="M715.8 1522.0Q717.0 1519.5 718.2 1522.0L717.9 1525.2 717.7 1529.0 717.1 1529.0 717.0 1525.6 716.8 1529.0 716.2 1529.0 716.0 1525.0Z" fill="#8c8c8c"/>
<circle cx="728.7" cy="1517.0" r="1.0" fill="#8c8c8c"/>
<path d="M727.5 1519.0Q728.7 1516.5 729.9 1519.0L729.6 1522.2 729.4 1526.0 728.8 1526.0 728.7 1522.6 728.5 1526.0 727.9 1526.0 727.7 1522.0Z" fill="#8c8c8c"/>
<circle cx="770" cy="1529.5" r="1.5" fill="#8a8a8a"/>
<path d="M768.2 1532.0Q770.0 1529.5 771.8 1532.0L771.4 1537.9 771.1 1544.0 770.2 1544.0 770.0 1538.6 769.7 1544.0 768.8 1544.0 768.6 1537.6Z" fill="#8a8a8a"/>
<circle cx="781" cy="1534.8" r="1.8" fill="#7a7a7a"/>
<path d="M778.9 1537.5Q781.0 1535.0 783.1 1537.5L782.6 1546.6 782.3 1555.0 781.2 1555.0 781.0 1547.5 780.7 1555.0 779.6 1555.0 779.3 1546.2Z" fill="#7a7a7a"/>
<circle cx="792.4" cy="1536.4" r="1.4" fill="#808080"/>
<path d="M790.7 1538.9Q792.4 1536.4 794.1 1538.9L793.7 1543.1 793.4 1548.0 792.6 1548.0 792.4 1543.6 792.1 1548.0 791.2 1548.0 791.0 1542.8Z" fill="#808080"/>
<circle cx="818.6" cy="1549.5" r="2.5" fill="#808080"/>
<path d="M814.6 1553.0Q818.6 1550.5 822.6 1553.0L821.6 1560.0 821.0 1568.0 819.0 1568.0 818.6 1560.9 818.0 1568.0 815.9 1568.0 815.4 1559.6Z" fill="#808080"/>
<circle cx="829.5" cy="1550.3" r="2.3" fill="#999"/>
<path d="M826.2 1553.6Q829.5 1551.1 832.8 1553.6L832.0 1559.8 831.5 1567.0 829.8 1567.0 829.5 1560.5 829.0 1567.0 827.3 1567.0 826.9 1559.4Z" fill="#999"/>
<circle cx="841.7" cy="1547.9" r="1.9" fill="#555"/>
<path d="M835.7 1550.8Q841.7 1548.3 847.7 1550.8L846.3 1555.9 845.3 1562.0 842.3 1562.0 841.7 1556.6 840.7 1562.0 837.6 1562.0 836.9 1555.6Z" fill="#555"/>
<circle cx="851.9" cy="1557.2" r="4.2" fill="#4a4a4a"/>
<path d="M846.9 1562.4Q851.9 1559.9 856.9 1562.4L855.7 1576.6 854.9 1591.0 852.4 1591.0 851.9 1578.1 851.1 1591.0 848.5 1591.0 847.9 1575.8Z" fill="#4a4a4a"/>
<circle cx="895.7" cy="1569.9" r="2.9" fill="#505050"/>
<path d="M890.2 1573.8Q895.7 1571.3 901.2 1573.8L899.9 1581.9 899.0 1591.0 896.2 1591.0 895.7 1582.8 894.8 1591.0 892.0 1591.0 891.3 1581.4Z" fill="#505050"/>
<circle cx="901.8" cy="1589.4" r="3.4" fill="#555"/>
<path d="M897.8 1593.7Q901.8 1591.2 905.8 1593.7L904.8 1610.8 904.2 1626.0 902.2 1626.0 901.8 1612.4 901.2 1626.0 899.1 1626.0 898.6 1610.0Z" fill="#555"/>
<circle cx="915.7" cy="1574.0" r="4.0" fill="#4d4d4d"/>
<path d="M911.0 1579.0Q915.7 1576.5 920.5 1579.0L919.3 1596.0 918.6 1612.0 916.2 1612.0 915.7 1597.7 914.9 1612.0 912.5 1612.0 911.9 1595.2Z" fill="#4d4d4d"/>
<circle cx="926.5" cy="1600.4" r="4.4" fill="#505050"/>
<path d="M921.2 1605.8Q926.5 1603.3 931.8 1605.8L930.5 1619.6 929.6 1634.0 927.0 1634.0 926.5 1621.1 925.7 1634.0 922.9 1634.0 922.3 1618.8Z" fill="#505050"/>
<circle cx="935.7" cy="1581.8" r="3.8" fill="#6a6a6a"/>
<path d="M930.2 1586.7Q935.7 1584.2 941.2 1586.7L939.9 1597.8 939.0 1610.0 936.2 1610.0 935.7 1599.1 934.8 1610.0 932.0 1610.0 931.3 1597.2Z" fill="#6a6a6a"/>
<circle cx="951" cy="1579.6" r="3.6" fill="#555"/>
<path d="M944.5 1584.2Q951.0 1581.7 957.5 1584.2L955.9 1594.6 954.9 1606.0 951.6 1606.0 951.0 1595.8 950.0 1606.0 946.6 1606.0 945.8 1594.0Z" fill="#555"/>
<circle cx="949" cy="1621.6" r="5.6" fill="#454545"/>
<path d="M942.0 1628.3Q949.0 1625.8 956.0 1628.3L954.3 1645.1 953.2 1663.0 949.7 1663.0 949.0 1647.0 947.9 1663.0 944.2 1663.0 943.4 1644.2Z" fill="#454545"/>
<circle cx="961" cy="1625.3" r="5.3" fill="#4a4a4a"/>
<path d="M954.0 1631.6Q961.0 1629.1 968.0 1631.6L966.3 1647.3 965.2 1664.0 961.7 1664.0 961.0 1649.0 959.9 1664.0 956.2 1664.0 955.4 1646.4Z" fill="#4a4a4a"/>
<circle cx="971" cy="1591.7" r="1.7" fill="#8a8a8a"/>
<path d="M969.0 1594.4Q971.0 1591.9 973.0 1594.4L972.5 1605.5 972.2 1615.0 971.2 1615.0 971.0 1606.5 970.7 1615.0 969.6 1615.0 969.4 1605.0Z" fill="#8a8a8a"/>
<circle cx="941" cy="1606.9" r="2.9" fill="#606060"/>
<path d="M937.5 1610.9Q941.0 1608.4 944.5 1610.9L943.7 1622.6 943.1 1634.0 941.4 1634.0 941.0 1623.8 940.4 1634.0 938.6 1634.0 938.2 1622.0Z" fill="#606060"/>
<circle cx="988" cy="1635.4" r="3.4" fill="#4d4d4d"/>
<path d="M984.0 1639.7Q988.0 1637.2 992.0 1639.7L991.0 1659.3 990.4 1676.0 988.4 1676.0 988.0 1661.0 987.4 1676.0 985.3 1676.0 984.8 1658.4Z" fill="#4d4d4d"/>
<circle cx="1014.3" cy="1659.5" r="2.5" fill="#585858"/>
<path d="M1011.0 1663.0Q1014.3 1660.5 1017.5 1663.0L1016.8 1670.0 1016.2 1678.0 1014.6 1678.0 1014.3 1670.9 1013.8 1678.0 1012.1 1678.0 1011.7 1669.6Z" fill="#585858"/>
<circle cx="1020" cy="1692.3" r="1.3" fill="#7a7a7a"/>
<path d="M1018.4 1694.7Q1020.0 1692.2 1021.6 1694.7L1021.2 1700.9 1021.0 1707.0 1020.2 1707.0 1020.0 1701.6 1019.7 1707.0 1018.9 1707.0 1018.7 1700.6Z" fill="#7a7a7a"/>
<circle cx="1026.5" cy="1692.3" r="1.3" fill="#7a7a7a"/>
<path d="M1024.9 1694.7Q1026.5 1692.2 1028.1 1694.7L1027.7 1700.9 1027.5 1707.0 1026.7 1707.0 1026.5 1701.6 1026.2 1707.0 1025.4 1707.0 1025.2 1700.6Z" fill="#7a7a7a"/>
<circle cx="1055.8" cy="1693.0" r="4.0" fill="#a5a5a5"/>
<path d="M1051.0 1698.0Q1055.8 1695.5 1060.5 1698.0L1059.4 1719.4 1058.6 1738.0 1056.3 1738.0 1055.8 1721.3 1055.0 1738.0 1052.6 1738.0 1052.0 1718.4Z" fill="#a5a5a5"/>
<circle cx="1077.4" cy="1689.9" r="2.9" fill="#bdbdbd"/>
<path d="M1073.9 1693.9Q1077.4 1691.4 1080.9 1693.9L1080.1 1711.8 1079.5 1727.0 1077.8 1727.0 1077.4 1713.4 1076.8 1727.0 1075.0 1727.0 1074.6 1711.0Z" fill="#bdbdbd"/>
<path d="M884 1566l12 6" stroke="#505050" stroke-width="3.2" fill="none"/>
</g>
<circle cx="635.7" cy="1760.7" r="184.1" fill="rgba(26,90,176,0.80)"/>
<circle cx="669.9" cy="1780.6" r="66.1" fill="rgba(16,76,160,0.72)"/>
<circle cx="560" cy="1612.4" r="20" fill="rgba(18,72,160,0.72)"/>
<circle cx="930.3" cy="1816.5" r="33.3" fill="rgba(26,90,176,0.80)"/>
<circle cx="1151.9" cy="1875" r="14.5" fill="rgba(26,90,176,0.80)"/>
<circle cx="891" cy="1695.7" r="5.9" fill="rgba(26,90,176,0.80)"/>
<circle cx="691.8" cy="1944.2" r="8.3" fill="rgba(26,90,176,0.80)"/>
<circle cx="434.5" cy="1833.5" r="5.6" fill="rgba(26,90,176,0.80)"/>
<circle cx="301.2" cy="1916" r="5.8" fill="rgba(26,90,176,0.80)"/>
<circle cx="382.2" cy="1981.2" r="21" fill="rgba(26,90,176,0.80)"/>
<circle cx="280" cy="1998" r="4" fill="rgba(26,90,176,0.80)"/>
<circle cx="481.2" cy="2000.5" r="23.4" fill="rgba(26,90,176,0.80)"/>
<circle cx="555.6" cy="2000.2" r="39.4" fill="rgba(26,90,176,0.80)"/>
<circle cx="499" cy="2066.9" r="63.6" fill="rgba(26,90,176,0.80)"/>
<circle cx="553" cy="2088.3" r="6.5" fill="rgba(18,72,160,0.85)"/>
<text x="633.6" y="1763.1" font-size="13.5" fill="#e9eff8" text-anchor="middle" font-weight="normal" textLength="30.0" lengthAdjust="spacingAndGlyphs">Síria</text>
<text x="672.1" y="1787.8" font-size="13.5" fill="#e9eff8" text-anchor="middle" font-weight="normal" textLength="26.0" lengthAdjust="spacingAndGlyphs">Iraq</text>
<text x="586.0" y="1611.8" font-size="13.5" fill="#e9eff8" text-anchor="start" font-weight="normal" textLength="50.3" lengthAdjust="spacingAndGlyphs">Ucraïna</text>
<text x="969.5" y="1820.0" font-size="13.5" fill="#4a4a4a" text-anchor="start" font-weight="normal" textLength="56.0" lengthAdjust="spacingAndGlyphs">Pakistán</text>
<text x="1130.0" y="1882.2" font-size="13.5" fill="#4a4a4a" text-anchor="end" font-weight="normal" textLength="63.8" lengthAdjust="spacingAndGlyphs">Myanmar</text>
<text x="904.9" y="1701.2" font-size="13.5" fill="#4a4a4a" text-anchor="start" font-weight="normal" textLength="41.6" lengthAdjust="spacingAndGlyphs">Iemen</text>
<text x="708.0" y="1947.0" font-size="13.5" fill="#4a4a4a" text-anchor="start" font-weight="normal" textLength="41.6" lengthAdjust="spacingAndGlyphs">Iemen</text>
<text x="420.8" y="1837.2" font-size="13.5" fill="#4a4a4a" text-anchor="end" font-weight="normal" textLength="31.0" lengthAdjust="spacingAndGlyphs">Líbia</text>
<text x="317.1" y="1920.8" font-size="13.5" fill="#4a4a4a" text-anchor="start" font-weight="normal" textLength="28.0" lengthAdjust="spacingAndGlyphs">Mali</text>
<text x="356.5" y="1986.2" font-size="13.5" fill="#4a4a4a" text-anchor="end" font-weight="normal" textLength="48.0" lengthAdjust="spacingAndGlyphs">Nigèria</text>
<text x="260.3" y="2008.0" font-size="13.5" fill="#4a4a4a" text-anchor="end" font-weight="normal" textLength="85.0" lengthAdjust="spacingAndGlyphs">Costa d'Ivori</text>
<text x="478.0" y="1951.5" font-size="13.5" fill="#4a4a4a" text-anchor="middle" font-weight="normal" textLength="66.0" lengthAdjust="spacingAndGlyphs">República</text>
<text x="478.0" y="1969.3" font-size="13.5" fill="#4a4a4a" text-anchor="middle" font-weight="normal" textLength="98.0" lengthAdjust="spacingAndGlyphs">Centreafricana</text>
<text x="554.0" y="1996.9" font-size="13.5" fill="#e9eff8" text-anchor="middle" font-weight="normal" textLength="66.0" lengthAdjust="spacingAndGlyphs">Sudan del</text>
<text x="556.0" y="2015.4" font-size="13.5" fill="#e9eff8" text-anchor="middle" font-weight="normal" textLength="25.0" lengthAdjust="spacingAndGlyphs">Sud</text>
<text x="499.0" y="2053.3" font-size="13.5" fill="#e9eff8" text-anchor="middle" font-weight="normal" textLength="66.0" lengthAdjust="spacingAndGlyphs">República</text>
<text x="499.0" y="2071.8" font-size="13.5" fill="#e9eff8" text-anchor="middle" font-weight="normal" textLength="84.0" lengthAdjust="spacingAndGlyphs">Democràtica</text>
<text x="499.0" y="2090.3" font-size="13.5" fill="#e9eff8" text-anchor="middle" font-weight="normal" textLength="69.0" lengthAdjust="spacingAndGlyphs">del Congo</text>
<text x="565.9" y="2094.3" font-size="13.5" fill="#4a4a4a" text-anchor="start" font-weight="normal" textLength="53.0" lengthAdjust="spacingAndGlyphs">Burundi</text>
</g>
<text x="81.6" y="1455.8" font-size="19.5" fill="#1c2f55" text-anchor="start" font-weight="bold" textLength="629.7" lengthAdjust="spacingAndGlyphs">15 CONFLICTES QUE HAN ESCLATAT ELS DARRERS 5 ANYS</text>
<text x="81.6" y="1482.5" font-size="20" fill="#3a4560" text-anchor="start" font-weight="normal" textLength="350.0" lengthAdjust="spacingAndGlyphs">i han provocat el desplaçament de.</text>
<text x="441.7" y="1482.5" font-size="20" fill="#1c2f55" text-anchor="start" font-weight="bold" textLength="242.8" lengthAdjust="spacingAndGlyphs">10 milions de persones</text>
<text x="177.1" y="1525.7" font-size="14.1" fill="#4a71b6" text-anchor="end" font-weight="bold">11.598.000</text>
<text x="191.3" y="1525.7" font-size="15" fill="#454545" text-anchor="start" font-weight="normal">Síria</text>
<text x="177.1" y="1546.2" font-size="14.1" fill="#4a71b6" text-anchor="end" font-weight="bold">4.104.000</text>
<text x="191.3" y="1546.2" font-size="15" fill="#454545" text-anchor="start" font-weight="normal">Iraq</text>
<text x="177.1" y="1566.8" font-size="14.1" fill="#4a71b6" text-anchor="end" font-weight="bold">4.039.000</text>
<text x="191.3" y="1566.8" font-size="15" fill="#454545" text-anchor="start" font-weight="normal">República Democràtica del Congo</text>
<text x="177.1" y="1587.3" font-size="14.1" fill="#4a71b6" text-anchor="end" font-weight="bold">2.465.000</text>
<text x="191.3" y="1587.3" font-size="15" fill="#454545" text-anchor="start" font-weight="normal">Sudan del Sud</text>
<text x="177.1" y="1607.8" font-size="14.1" fill="#4a71b6" text-anchor="end" font-weight="bold">1.832.000</text>
<text x="191.3" y="1607.8" font-size="15" fill="#454545" text-anchor="start" font-weight="normal">Pakistán</text>
<text x="177.1" y="1628.4" font-size="14.1" fill="#4a71b6" text-anchor="end" font-weight="bold">1.490.000</text>
<text x="191.3" y="1628.4" font-size="15" fill="#454545" text-anchor="start" font-weight="normal">República Centreafricana</text>
<text x="177.1" y="1648.9" font-size="14.1" fill="#4a71b6" text-anchor="end" font-weight="bold">1.379.000</text>
<text x="191.3" y="1648.9" font-size="15" fill="#454545" text-anchor="start" font-weight="normal">Nigèria</text>
<text x="177.1" y="1669.4" font-size="14.1" fill="#4a71b6" text-anchor="end" font-weight="bold">1.076.000</text>
<text x="191.3" y="1669.4" font-size="15" fill="#454545" text-anchor="start" font-weight="normal">Ucraïna</text>
<text x="177.1" y="1689.9" font-size="14.1" fill="#4a71b6" text-anchor="end" font-weight="bold">807.000</text>
<text x="191.3" y="1689.9" font-size="15" fill="#454545" text-anchor="start" font-weight="normal">Myanmar</text>
<text x="177.1" y="1710.5" font-size="14.1" fill="#4a71b6" text-anchor="end" font-weight="bold">427.000</text>
<text x="191.3" y="1710.5" font-size="15" fill="#454545" text-anchor="start" font-weight="normal">Mali</text>
<text x="177.1" y="1731.0" font-size="14.1" fill="#4a71b6" text-anchor="end" font-weight="bold">425.000</text>
<text x="191.3" y="1731.0" font-size="15" fill="#454545" text-anchor="start" font-weight="normal">Iemen</text>
<text x="177.1" y="1751.5" font-size="14.1" fill="#4a71b6" text-anchor="end" font-weight="bold">371.000</text>
<text x="191.3" y="1751.5" font-size="15" fill="#454545" text-anchor="start" font-weight="normal">Líbia</text>
<text x="177.1" y="1772.1" font-size="14.1" fill="#4a71b6" text-anchor="end" font-weight="bold">335.000</text>
<text x="191.3" y="1772.1" font-size="15" fill="#454545" text-anchor="start" font-weight="normal">Burundi</text>
<text x="177.1" y="1792.6" font-size="14.1" fill="#4a71b6" text-anchor="end" font-weight="bold">122.000</text>
<text x="191.3" y="1792.6" font-size="15" fill="#454545" text-anchor="start" font-weight="normal">Costa d'Ivori</text>
<text x="177.1" y="1813.1" font-size="14.1" fill="#4a71b6" text-anchor="end" font-weight="bold">4.000</text>
<text x="191.3" y="1813.1" font-size="15" fill="#454545" text-anchor="start" font-weight="normal">Kirguizistan</text>
<text x="1168" y="2112.7" font-size="12.6" fill="#444" text-anchor="end" textLength="225.4" lengthAdjust="spacingAndGlyphs">Data actualització: <tspan font-weight="bold">18 de juliol de 2015</tspan></text>
<text x="1168.0" y="2127.2" font-size="10.8" fill="#8c8c8c" text-anchor="end" font-weight="normal" textLength="479.7" lengthAdjust="spacingAndGlyphs">Font: International Organization for Migration (IOM). www.iom.int | Foto: ACNUR/S. Baldwin</text>
</svg>
<div class="box"></div>
<div class="bt" style="top:1710.6px;transform:scaleX(0.98)">Tadamon</div>
<div class="bt" style="top:1759.9px;transform:scaleX(0.964)">Catalunya</div>
<div class="col boxt" style="left:1228.30px;top:1836.54px;width:332.50px;font-size:15.8px;line-height:23.18px">
<div class="l" style="word-spacing:0.452px;letter-spacing:0.500px">Diverses persones implicades en la solidari-</div>
<div class="l" style="word-spacing:1.573px;letter-spacing:0.500px">tat internacional i els moviments per la pau</div>
<div class="l" style="word-spacing:1.985px;letter-spacing:0.500px">i pels drets humans ens hem conformat en</div>
<div class="l" style="word-spacing:5.054px;letter-spacing:0.500px">l’espai Tadamon Catalunya; Tadamon sig-</div>
<div class="l" style="word-spacing:1.752px;letter-spacing:0.500px">nifica solidaritat en àrab. La nostra primera</div>
<div class="l" style="word-spacing:-1.043px;letter-spacing:0.500px">iniciativa, Solidaritat amb el poble de Síria, té</div>
<div class="l" style="word-spacing:1.037px;letter-spacing:0.500px">com a objectiu canalitzar, des de Catalunya</div>
<div class="l" style="word-spacing:1.267px;letter-spacing:0.500px">i per primera vegada de manera unitària, la</div>
<div class="l" style="word-spacing:-2.452px;letter-spacing:0.500px">necessària solidaritat envers el poble de Síria,</div>
<div class="l" style="letter-spacing:0.500px">que està patint una greu crisi humanitària.</div>
<div class="l">&nbsp;</div>
<div class="l" style="letter-spacing:0.500px"><b style="letter-spacing:-0.02px">&gt; https:<span style="letter-spacing:3.4px">//</span>tadamoncatalunya.wordpress.com</b></div>
</div>
</div></body></html>
